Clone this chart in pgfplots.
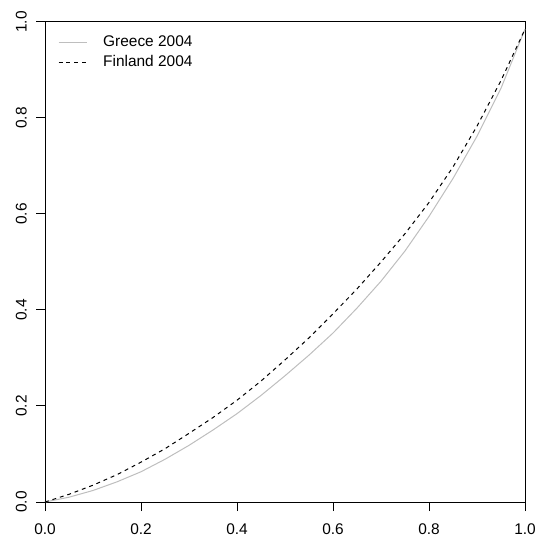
\documentclass[border=0pt]{standalone}
\usepackage{fontspec}
\setmainfont{Liberation Sans}
\usepackage{pgfplots}
\pgfplotsset{compat=1.18}
\definecolor{rgray}{HTML}{BEBEBE}
\begin{document}
\fontsize{15.5}{18}\selectfont
\begin{tikzpicture}
\begin{axis}[
  width=480bp, height=480bp, scale only axis,
  xmin=0, xmax=1, ymin=0, ymax=1,
  clip=false,
  axis line style={line width=1bp},
  xtick={0,0.2,0.4,0.6,0.8,1},
  ytick={0,0.2,0.4,0.6,0.8,1},
  xtick pos=bottom, ytick pos=left,
  xtick align=outside, ytick align=outside,
  major tick length=9bp,
  major tick style={black, line width=1bp},
  xticklabel shift=7bp, yticklabel shift=4bp,
  /pgf/number format/fixed,
  /pgf/number format/fixed zerofill,
  /pgf/number format/precision=1,
  /pgf/number format/assume math mode=true,
  ticklabel style={font=\fontsize{15.5}{18}\selectfont},
  yticklabel style={rotate=90, anchor=south},
  legend cell align=left,
  legend image code/.code={\draw[#1] (0bp,0bp) -- (28bp,0bp); \path (42bp,0bp);},
  legend style={at={(axis description cs:0,1)}, anchor=north west,
    xshift=10bp, yshift=-9bp, draw=none, fill=none,
    font=\fontsize{15.5}{18}\selectfont,
    nodes={text height=11bp, text depth=3bp},
    row sep=2bp},
]
\addplot[rgray, line width=1bp] coordinates {
(0,0) (0.05,0.010) (0.1,0.024) (0.15,0.042) (0.2,0.063) (0.25,0.089)
(0.3,0.118) (0.35,0.150) (0.4,0.184) (0.45,0.222) (0.5,0.263)
(0.55,0.306) (0.6,0.352) (0.65,0.404) (0.7,0.460) (0.75,0.523)
(0.8,0.595) (0.85,0.674) (0.9,0.762) (0.95,0.862) (1.0,0.985)
};
\addlegendentry{Greece 2004}
\addplot[black, line width=1bp, dash pattern=on 3.9bp off 3.9bp] coordinates {
(0,0) (0.05,0.016) (0.1,0.035) (0.15,0.057) (0.2,0.083) (0.25,0.111)
(0.3,0.143) (0.35,0.176) (0.4,0.212) (0.45,0.252) (0.5,0.296)
(0.55,0.342) (0.6,0.392) (0.65,0.444) (0.7,0.500) (0.75,0.559)
(0.8,0.624) (0.85,0.698) (0.9,0.783) (0.95,0.878) (1.0,0.985)
};
\addlegendentry{Finland 2004}
\pgfplotsinvokeforeach{0,0.2,0.4,0.6,0.8,1}{
  \draw[black, line width=1bp] (axis cs:#1,0) -- ++(0bp,-9bp);
  \draw[black, line width=1bp] (axis cs:0,#1) -- ++(-9bp,0bp);
}
\end{axis}
\pgfresetboundingbox
\path ([shift={(-45bp,-36bp)}]current axis.south west) rectangle ([shift={(14bp,22bp)}]current axis.north east);
\end{tikzpicture}
\end{document}
